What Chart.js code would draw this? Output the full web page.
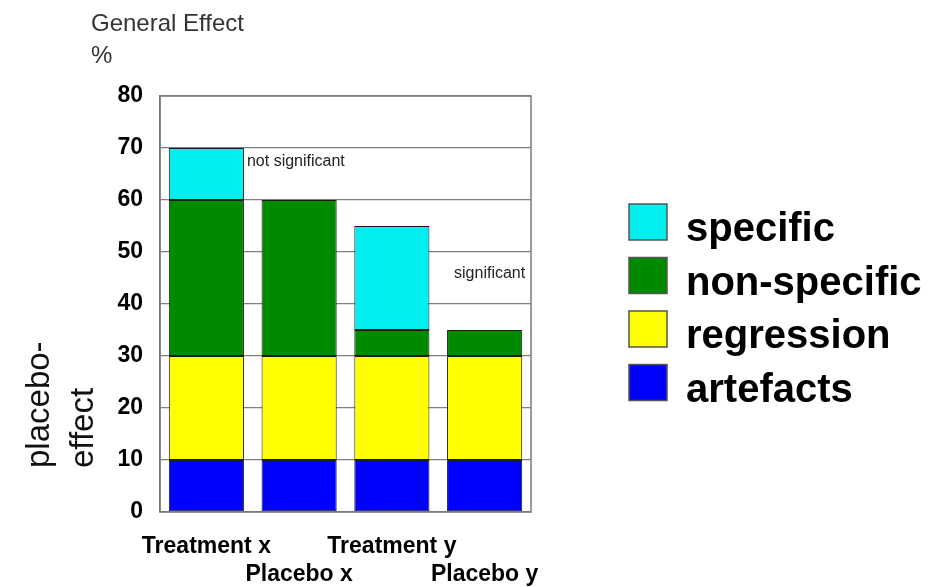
<!DOCTYPE html>
<html lang="en">
<head>
    <meta charset="UTF-8">
    <title>General Effect</title>
    <style>
        html, body { margin: 0; padding: 0; background: #fff; }
        .wrap { width: 931px; height: 587px; position: relative; }
    </style>
    <script src="https://cdn.jsdelivr.net/npm/chart.js"></script>
    <script>
        // data
        const categories = ['Treatment x', 'Placebo x', 'Treatment y', 'Placebo y'];
        // staggered tick labels: top row / bottom row
        const tickRows = [['Treatment x', ''], ['', 'Placebo x'], ['Treatment y', ''], ['', 'Placebo y']];
        const artefacts = [10, 10, 10, 10];
        const regression = [20, 20, 20, 20];
        const nonSpecific = [30, 30, 5, 5];
        const specific = [10, null, 20, null];
        const seriesNames = ['artefacts', 'regression', 'non-specific', 'specific'];
        const seriesColors = ['#0000ff', '#ffff00', '#008a00', '#00eeee'];
        const yTicks = [0, 10, 20, 30, 40, 50, 60, 70, 80];
        const notes = [
            { text: 'not significant', cat: 0, value: 66.5 },
            { text: 'significant', cat: 3, value: 45 }
        ];

        const FONT = "'Liberation Sans', Arial, sans-serif";

        const extras = {
            id: 'extras',
            afterDraw(chart) {
                const ctx = chart.ctx;
                const a = chart.chartArea;
                const xs = chart.scales.x, ys = chart.scales.y;
                ctx.save();

                // plot frame
                ctx.strokeStyle = '#7a7a7a';
                ctx.lineWidth = 1.5;
                ctx.strokeRect(a.left, a.top, a.right - a.left, a.bottom - a.top);

                // header text
                ctx.fillStyle = '#333';
                ctx.font = '24px ' + FONT;
                ctx.textAlign = 'left';
                ctx.textBaseline = 'alphabetic';
                ctx.fillText('General Effect', 91, 31);
                ctx.fillText('%', 91, 63);

                // notes next to bars
                ctx.font = '16px ' + FONT;
                ctx.fillStyle = '#222';
                const bar0 = chart.getDatasetMeta(3).data[notes[0].cat];
                ctx.textAlign = 'left';
                ctx.fillText(notes[0].text, bar0.x + bar0.width / 2 + 3, ys.getPixelForValue(notes[0].value));
                ctx.textAlign = 'center';
                ctx.fillText(notes[1].text, xs.getPixelForValue(notes[1].cat) + 5, ys.getPixelForValue(notes[1].value));

                // rotated axis title
                ctx.save();
                ctx.translate(0, 468);
                ctx.rotate(-Math.PI / 2);
                ctx.font = '33px ' + FONT;
                ctx.fillStyle = '#111';
                ctx.textAlign = 'left';
                ctx.fillText('placebo-', 0, 49);
                ctx.fillText('effect', 0, 93);
                ctx.restore();

                // legend, top item = last dataset
                const ds = chart.data.datasets;
                const lx = a.right + 98;
                let ly = a.top + 108;
                ctx.font = 'bold 40px ' + FONT;
                ctx.textAlign = 'left';
                for (let i = ds.length - 1; i >= 0; i--) {
                    ctx.fillStyle = ds[i].backgroundColor;
                    ctx.fillRect(lx, ly, 38, 36);
                    ctx.strokeStyle = '#555';
                    ctx.lineWidth = 1.5;
                    ctx.strokeRect(lx, ly, 38, 36);
                    ctx.fillStyle = '#000';
                    ctx.fillText(ds[i].label, lx + 57, ly + 37);
                    ly += 53.5;
                }
                ctx.restore();
            }
        };

        window.onload = function() {
            const series = [artefacts, regression, nonSpecific, specific];
            const datasets = series.map((d, i) => ({
                label: seriesNames[i],
                data: d,
                backgroundColor: seriesColors[i],
                borderColor: '#1a1a1a',
                borderWidth: 1,
                borderSkipped: false,
                barPercentage: 0.81,
                categoryPercentage: 1.0
            }));

            new Chart(document.getElementById('chart').getContext('2d'), {
                type: 'bar',
                data: { labels: categories, datasets: datasets },
                options: {
                    responsive: false,
                    animation: false,
                    layout: { padding: { top: 96, right: 400, bottom: 0, left: 0 } },
                    plugins: {
                        legend: { display: false },
                        tooltip: { enabled: false }
                    },
                    scales: {
                        x: {
                            stacked: true,
                            grid: { display: false },
                            border: { display: false },
                            afterFit: s => { s.height = 75; },
                            ticks: {
                                padding: 13,
                                color: '#000',
                                maxRotation: 0,
                                autoSkip: false,
                                font: { family: FONT, size: 23, weight: 'bold', lineHeight: 1.2 },
                                callback: (v, i) => tickRows[i]
                            }
                        },
                        y: {
                            stacked: true,
                            min: yTicks[0],
                            max: yTicks[yTicks.length - 1],
                            afterFit: s => { s.width = 160; },
                            afterBuildTicks: s => { s.ticks = yTicks.map(v => ({ value: v })); },
                            grid: { color: '#808080', lineWidth: 1.3, drawTicks: false },
                            border: { color: '#7a7a7a', width: 1.5 },
                            ticks: {
                                padding: 17,
                                color: '#000',
                                font: { family: FONT, size: 23, weight: 'bold' }
                            }
                        }
                    }
                },
                plugins: [extras]
            });
        };
    </script>
</head>
<body>
    <div class="wrap">
        <canvas id="chart" width="931" height="587"></canvas>
    </div>
</body>
</html>
